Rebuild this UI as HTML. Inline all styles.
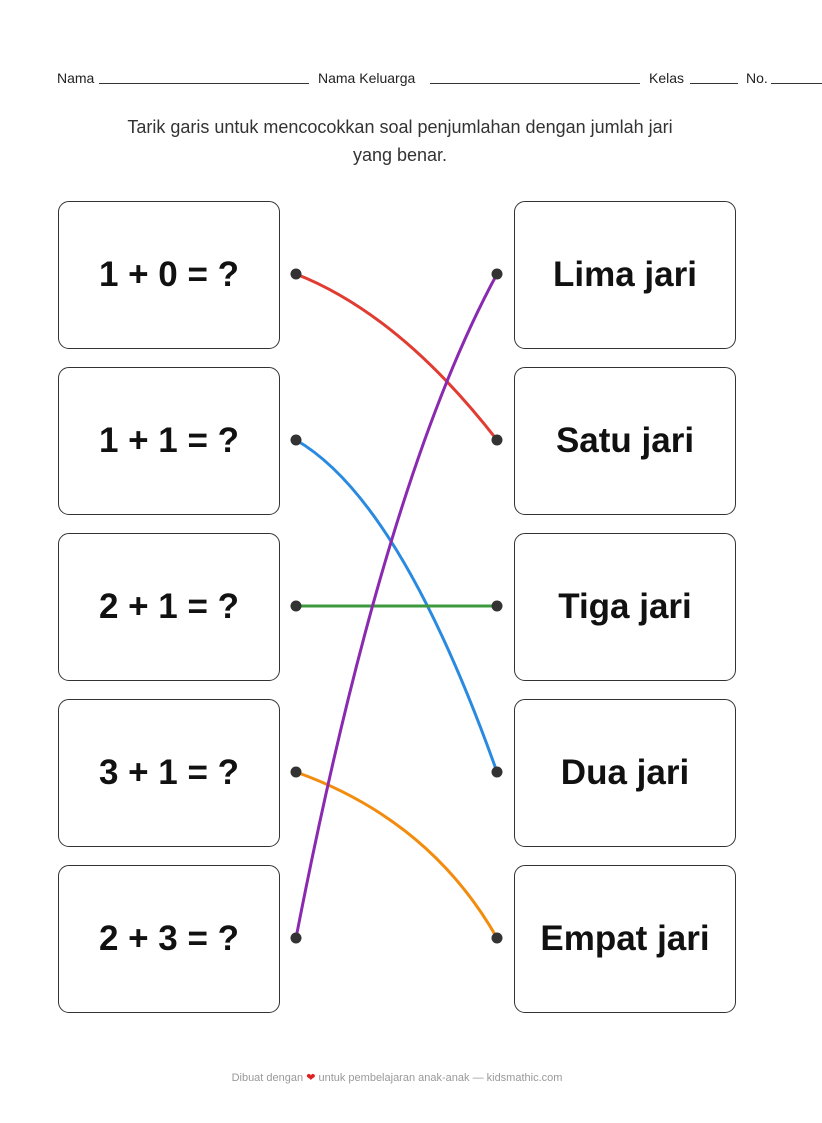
<!DOCTYPE html>
<html><head><meta charset="utf-8"><style>
body{margin:0;width:822px;height:1123px;background:#fff;position:relative;font-family:"Comic Sans MS","Liberation Sans",sans-serif;color:#222;overflow:hidden}
.h{position:absolute;top:70px;font-size:14px;color:#222;white-space:nowrap}
.ln{position:absolute;top:83px;border-bottom:1px solid #333;height:0}
.inst{position:absolute;top:113px;left:60px;width:680px;text-align:center;font-size:18px;line-height:28px;color:#333}
.box{position:absolute;width:220px;height:146px;border:1.5px solid #333;border-radius:11px;display:flex;align-items:center;justify-content:center;font-size:35px;font-weight:bold;color:#111;box-sizing:content-box}
.foot{position:absolute;top:1071px;left:0;width:794px;text-align:center;font-size:11px;color:#999}
svg{position:absolute;left:0;top:0}
</style></head><body>
<div class="h" style="left:57px">Nama</div><div class="ln" style="left:99px;width:210px"></div>
<div class="h" style="left:318px">Nama Keluarga</div><div class="ln" style="left:430px;width:210px"></div>
<div class="h" style="left:649px">Kelas</div><div class="ln" style="left:690px;width:48px"></div>
<div class="h" style="left:746px">No.</div><div class="ln" style="left:771px;width:51px"></div>
<div class="inst">Tarik garis untuk mencocokkan soal penjumlahan dengan jumlah jari<br>yang benar.</div>
<div class="box" style="left:58px;top:201px">1 + 0 = ?</div>
<div class="box" style="left:58px;top:367px">1 + 1 = ?</div>
<div class="box" style="left:58px;top:533px">2 + 1 = ?</div>
<div class="box" style="left:58px;top:699px">3 + 1 = ?</div>
<div class="box" style="left:58px;top:865px">2 + 3 = ?</div>
<div class="box" style="left:514px;top:201px">Lima jari</div>
<div class="box" style="left:514px;top:367px">Satu jari</div>
<div class="box" style="left:514px;top:533px">Tiga jari</div>
<div class="box" style="left:514px;top:699px">Dua jari</div>
<div class="box" style="left:514px;top:865px">Empat jari</div>
<svg width="822" height="1123" fill="none" stroke-width="3" stroke-linecap="round">
<path d="M296,274 Q400,315 497,440" stroke="#e03c31"/>
<path d="M296,440 Q400,500 497,772" stroke="#2a8ae0"/>
<path d="M296,606 L497,606" stroke="#3c9a3c"/>
<path d="M296,772 Q430,820 497,938" stroke="#f28c0f"/>
<path d="M296,938 Q385,480 497,274" stroke="#8a2ab0"/>
<g fill="#333" stroke="none">
<circle cx="296" cy="274" r="5.5"/><circle cx="296" cy="440" r="5.5"/><circle cx="296" cy="606" r="5.5"/><circle cx="296" cy="772" r="5.5"/><circle cx="296" cy="938" r="5.5"/>
<circle cx="497" cy="274" r="5.5"/><circle cx="497" cy="440" r="5.5"/><circle cx="497" cy="606" r="5.5"/><circle cx="497" cy="772" r="5.5"/><circle cx="497" cy="938" r="5.5"/>
</g></svg>
<div class="foot">Dibuat dengan <span style="color:#e02020">❤</span> untuk pembelajaran anak-anak — kidsmathic.com</div>
</body></html>
